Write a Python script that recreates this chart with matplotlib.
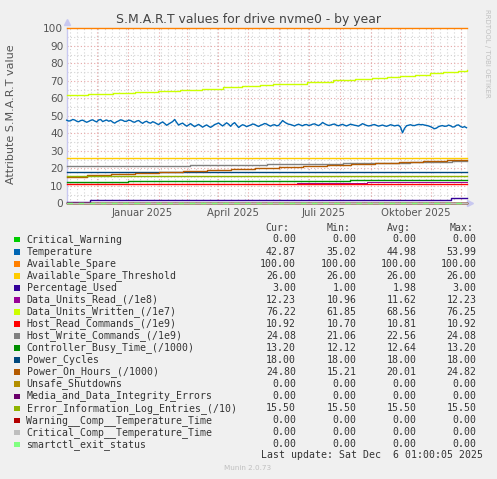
import numpy as np
import matplotlib
matplotlib.use("Agg")
import matplotlib.pyplot as plt
from matplotlib.patches import Rectangle
import datetime as dt

W, H = 497, 479
START = dt.datetime(2024, 11, 1, 1, 0)
END = dt.datetime(2025, 12, 6, 1, 0)

# ---------------- data (day offsets from START) ----------------
temp_vals = [47.5, 47.0, 47.2, 47.9, 47.6, 46.9, 46.6, 47.3, 47.5, 46.9,
             46.3, 46.8, 47.4, 47.7, 47.0, 46.5, 47.6, 47.9, 46.7, 47.2,
             47.6, 46.9, 47.3, 46.4, 45.8, 46.6, 47.1, 47.7, 47.4, 46.8,
             46.9, 47.5, 47.3, 46.6, 46.3, 47.0, 47.3, 46.4, 45.7, 46.5,
             46.9, 46.1, 45.8, 46.6, 46.2, 45.5, 45.0, 45.9, 46.5, 45.6,
             44.6, 45.3, 46.0, 46.7, 47.9, 46.2, 44.7, 45.4, 45.8, 44.9,
             44.1, 44.8, 45.5, 44.6, 43.8, 44.5, 45.1, 44.3, 43.5, 44.2,
             44.8, 44.0, 43.4, 44.1, 45.0, 45.4, 45.9, 45.0, 44.2, 45.1,
             46.0, 45.2, 44.0, 45.3, 46.1, 44.7, 43.3, 44.2, 44.9, 44.5,
             43.8, 44.3, 44.7, 45.3, 45.1, 44.4, 43.9, 44.6, 45.0, 45.6,
             45.3, 44.6, 44.1, 44.7, 44.9, 44.3, 44.5, 45.8, 47.3, 46.4,
             45.7, 45.2, 45.0, 44.6, 44.2, 44.8, 45.2, 44.7, 44.3, 44.9,
             45.0, 44.5, 44.7, 45.2, 45.4, 44.8, 44.4, 45.1, 46.2, 45.5,
             44.9, 44.5, 44.7, 45.1, 45.3, 44.6, 44.3, 44.8, 45.1, 44.6,
             44.2, 44.7, 45.2, 44.9, 44.6, 44.4, 44.1, 44.8, 45.5, 45.0,
             44.5, 44.2, 44.4, 44.8, 45.0, 44.5, 44.1, 44.4, 44.7, 44.3,
             44.0, 44.4, 44.9, 44.6, 44.2, 44.5, 44.6, 43.5, 40.3, 42.8,
             44.3, 44.6, 44.9, 44.5, 44.4, 44.8, 45.1, 44.9, 45.0, 44.7,
             44.5, 44.2, 43.8, 43.2, 42.6, 43.0, 43.8, 44.2, 44.4, 44.0,
             44.1, 44.7, 44.3, 43.6, 43.7, 44.6, 44.8, 43.9, 43.4, 43.8,
             43.2]
temp_days = [2 * i for i in range(len(temp_vals))]

written_days = [0, 21, 46, 68, 91, 113, 135, 156, 175, 193, 206, 240, 266, 288, 305, 320, 333, 348, 363, 376, 391, 400]
written_vals = [61.9, 62.6, 63.2, 63.8, 64.4, 65.0, 65.6, 66.2, 66.9, 67.5, 68.1, 69.5, 70.3, 71.0, 71.6, 72.2, 72.9, 73.6, 74.3, 75.0, 75.8, 76.2]

hostw_days = [0, 48, 123, 200, 276, 343, 385, 400]
hostw_vals = [21.06, 21.6, 22.1, 22.6, 23.1, 23.6, 24.08, 24.08]

poh_days = [0, 20, 44, 68, 92, 116, 140, 164, 188, 212, 236, 260, 284, 308, 332, 356, 380, 400]
poh_vals = [15.3, 15.9, 16.5, 17.1, 17.7, 18.3, 18.9, 19.5, 20.1, 20.7, 21.3, 21.9, 22.5, 23.1, 23.7, 24.3, 24.8, 24.8]

busy_days = [0, 61, 283, 400]
busy_vals = [12.12, 12.6, 13.2, 13.2]

read_days = [0, 120, 230, 300, 360, 400]
read_vals = [10.78, 10.78, 11.8, 12.0, 12.23, 12.23]

hostr_days = [0, 120, 240, 330, 400]
hostr_vals = [10.75, 10.78, 10.85, 10.92, 10.92]

pct_days = [0, 23, 384, 400]
pct_vals = [1, 2, 3, 3]

const_days = [0, 400]

names = ["Critical_Warning", "Temperature", "Available_Spare", "Available_Spare_Threshold",
         "Percentage_Used", "Data_Units_Read_(/1e8)", "Data_Units_Written_(/1e7)",
         "Host_Read_Commands_(/1e9)", "Host_Write_Commands_(/1e9)", "Controller_Busy_Time_(/1000)",
         "Power_Cycles", "Power_On_Hours_(/1000)", "Unsafe_Shutdowns",
         "Media_and_Data_Integrity_Errors", "Error_Information_Log_Entries_(/10)",
         "Warning__Comp__Temperature_Time", "Critical_Comp__Temperature_Time", "smartctl_exit_status"]
colors = ["#00cc00", "#0066b3", "#ff8000", "#ffcc00", "#330099", "#990099", "#ccff00",
          "#ff0000", "#808080", "#008f00", "#00487d", "#b35a00", "#b38f00", "#6b006b",
          "#8fb300", "#b30000", "#bebebe", "#80ff80"]
cur = ["0.00", "42.87", "100.00", "26.00", "3.00", "12.23", "76.22", "10.92", "24.08", "13.20",
       "18.00", "24.80", "0.00", "0.00", "15.50", "0.00", "0.00", "0.00"]
mins = ["0.00", "35.02", "100.00", "26.00", "1.00", "10.96", "61.85", "10.70", "21.06", "12.12",
        "18.00", "15.21", "0.00", "0.00", "15.50", "0.00", "0.00", "0.00"]
avgs = ["0.00", "44.98", "100.00", "26.00", "1.98", "11.62", "68.56", "10.81", "22.56", "12.64",
        "18.00", "20.01", "0.00", "0.00", "15.50", "0.00", "0.00", "0.00"]
maxs = ["0.00", "53.99", "100.00", "26.00", "3.00", "12.23", "76.25", "10.92", "24.08", "13.20",
        "18.00", "24.82", "0.00", "0.00", "15.50", "0.00", "0.00", "0.00"]

const_vals = {"Critical_Warning": 0, "Available_Spare": 100, "Available_Spare_Threshold": 26,
              "Power_Cycles": 18, "Unsafe_Shutdowns": 0, "Media_and_Data_Integrity_Errors": 0,
              "Error_Information_Log_Entries_(/10)": 15.5, "Warning__Comp__Temperature_Time": 0,
              "Critical_Comp__Temperature_Time": 0, "smartctl_exit_status": 0}

xtick_labels = ["Januar 2025", "April 2025", "Juli 2025", "Oktober 2025"]
xtick_dates = [dt.datetime(2025, 1, 16), dt.datetime(2025, 4, 16), dt.datetime(2025, 7, 16), dt.datetime(2025, 10, 16)]
yticks = list(range(0, 101, 10))

step_series = {
    "Percentage_Used": (pct_days, pct_vals),
    "Data_Units_Read_(/1e8)": (read_days, read_vals),
    "Data_Units_Written_(/1e7)": (written_days, written_vals),
    "Host_Read_Commands_(/1e9)": (hostr_days, hostr_vals),
    "Host_Write_Commands_(/1e9)": (hostw_days, hostw_vals),
    "Controller_Busy_Time_(/1000)": (busy_days, busy_vals),
    "Power_On_Hours_(/1000)": (poh_days, poh_vals),
}

# ---------------- figure ----------------
BG = "#f0f0f0"
fig = plt.figure(figsize=(W / 100, H / 100), dpi=100, facecolor=BG)

def fx(x):
    return x / W

def fy(y):
    return 1 - y / H

L, R, T, B = 66.7, 466.5, 28.3, 203.3
ax = fig.add_axes([fx(L), fy(B), (R - L) / W, (B - T) / H])
ax.set_facecolor("white")

def to_dates(days):
    return [START + dt.timedelta(days=d) for d in days]

lw = 1.0
for n, c in zip(names, colors):
    if n == "Temperature":
        ax.plot(to_dates(temp_days), temp_vals, color=c, lw=lw, clip_on=False, zorder=3)
    elif n in step_series:
        d, v = step_series[n]
        if n == "Data_Units_Read_(/1e8)":
            ax.plot(to_dates(d), v, color=c, lw=0.7, drawstyle="steps-post", clip_on=False, zorder=2.9)
        else:
            ax.plot(to_dates(d), v, color=c, lw=lw, drawstyle="steps-post", clip_on=False, zorder=3)
    else:
        v = const_vals[n]
        ls = (0, (4, 4)) if n == "smartctl_exit_status" else "-"
        ax.plot(to_dates(const_days), [v, v], color=c, lw=lw, ls=ls, clip_on=False, zorder=3)

ax.set_xlim(START, END)
ax.set_ylim(0, 100)

# grid
mgrid = "#e8a8a8"
ngrid = "#d4d4d4"
dot = (0, (1, 2))
month = dt.datetime(2024, 12, 1)
while month < END:
    ax.axvline(month, color=mgrid, lw=0.8, ls=dot, zorder=1)
    month = dt.datetime(month.year + (month.month // 12), month.month % 12 + 1, 1)
wk = dt.datetime(2024, 11, 4)
while wk < END:
    ax.axvline(wk, color=ngrid, lw=0.8, ls=dot, zorder=0.5)
    wk += dt.timedelta(days=7)
for y in range(5, 100, 5):
    if y % 10 == 0:
        ax.axhline(y, color=mgrid, lw=0.8, ls=dot, zorder=1)
    else:
        ax.axhline(y, color=ngrid, lw=0.8, ls=dot, zorder=0.5)

for s in ["top", "right"]:
    ax.spines[s].set_visible(False)
for s in ["left", "bottom"]:
    ax.spines[s].set_color("#c8c8f0")
    ax.spines[s].set_linewidth(1.0)
    ax.spines[s].set_zorder(2)

ax.set_yticks(yticks)
ax.set_yticklabels([str(v) for v in yticks])
ax.set_xticks(xtick_dates)
ax.set_xticklabels(xtick_labels)
ax.tick_params(axis="y", length=0, pad=2.4, labelsize=7.6, labelcolor="#555555")
ax.tick_params(axis="x", length=0, pad=3.6, labelsize=7.3, labelcolor="#555555")

# axis arrows
ax.plot([0], [1.035], marker="^", ms=4, color="#c8c8f0", transform=ax.transAxes, clip_on=False)
ax.plot([1.01], [0], marker=">", ms=4, color="#c8c8f0", transform=ax.transAxes, clip_on=False)

# titles
fig.text(fx(248.5), fy(19), "S.M.A.R.T values for drive nvme0 - by year", ha="center", va="center",
         fontsize=8.9, color="#444444")
fig.text(fx(10.7), fy(114), "Attribute S.M.A.R.T value", rotation=90, ha="center", va="center",
         fontsize=8.0, color="#555555")
fig.text(fx(487.3), fy(53), "RRDTOOL / TOBI OETIKER", rotation=-90, ha="center", va="center",
         fontsize=5.0, color="#c0c0c0")

# legend
mono = "DejaVu Sans Mono"
lfs = 7.1
tcol = "#333333"
hy = 228.3
for hx, ht in zip([265, 326.7, 386.7, 450], ["Cur:", "Min:", "Avg:", "Max:"]):
    fig.text(fx(hx), fy(hy), ht, ha="left", va="center", fontsize=lfs, family=mono, color="#444444")

row0, dy = 239.5, 12.04
for i, (n, c) in enumerate(zip(names, colors)):
    y = row0 + i * dy
    fig.patches.append(Rectangle((fx(14), fy(y + 3)), 5.5 / W, 5.5 / H, transform=fig.transFigure,
                                 facecolor=c, edgecolor="none", figure=fig))
    fig.text(fx(26.5), fy(y), n, ha="left", va="center", fontsize=lfs, family=mono, color=tcol)
    for xr, v in zip([296, 356.7, 416.7, 476.7], [cur[i], mins[i], avgs[i], maxs[i]]):
        fig.text(fx(xr), fy(y), v, ha="right", va="center", fontsize=lfs, family=mono, color=tcol)

fig.text(fx(482.7), fy(455.3), "Last update: Sat Dec  6 01:00:05 2025", ha="right", va="center",
         fontsize=lfs, family=mono, color=tcol)
fig.text(fx(248), fy(468.3), "Munin 2.0.73", ha="center", va="center", fontsize=5.2, color="#c0c0c0")

fig.savefig("out.png", dpi=100, facecolor=BG)
